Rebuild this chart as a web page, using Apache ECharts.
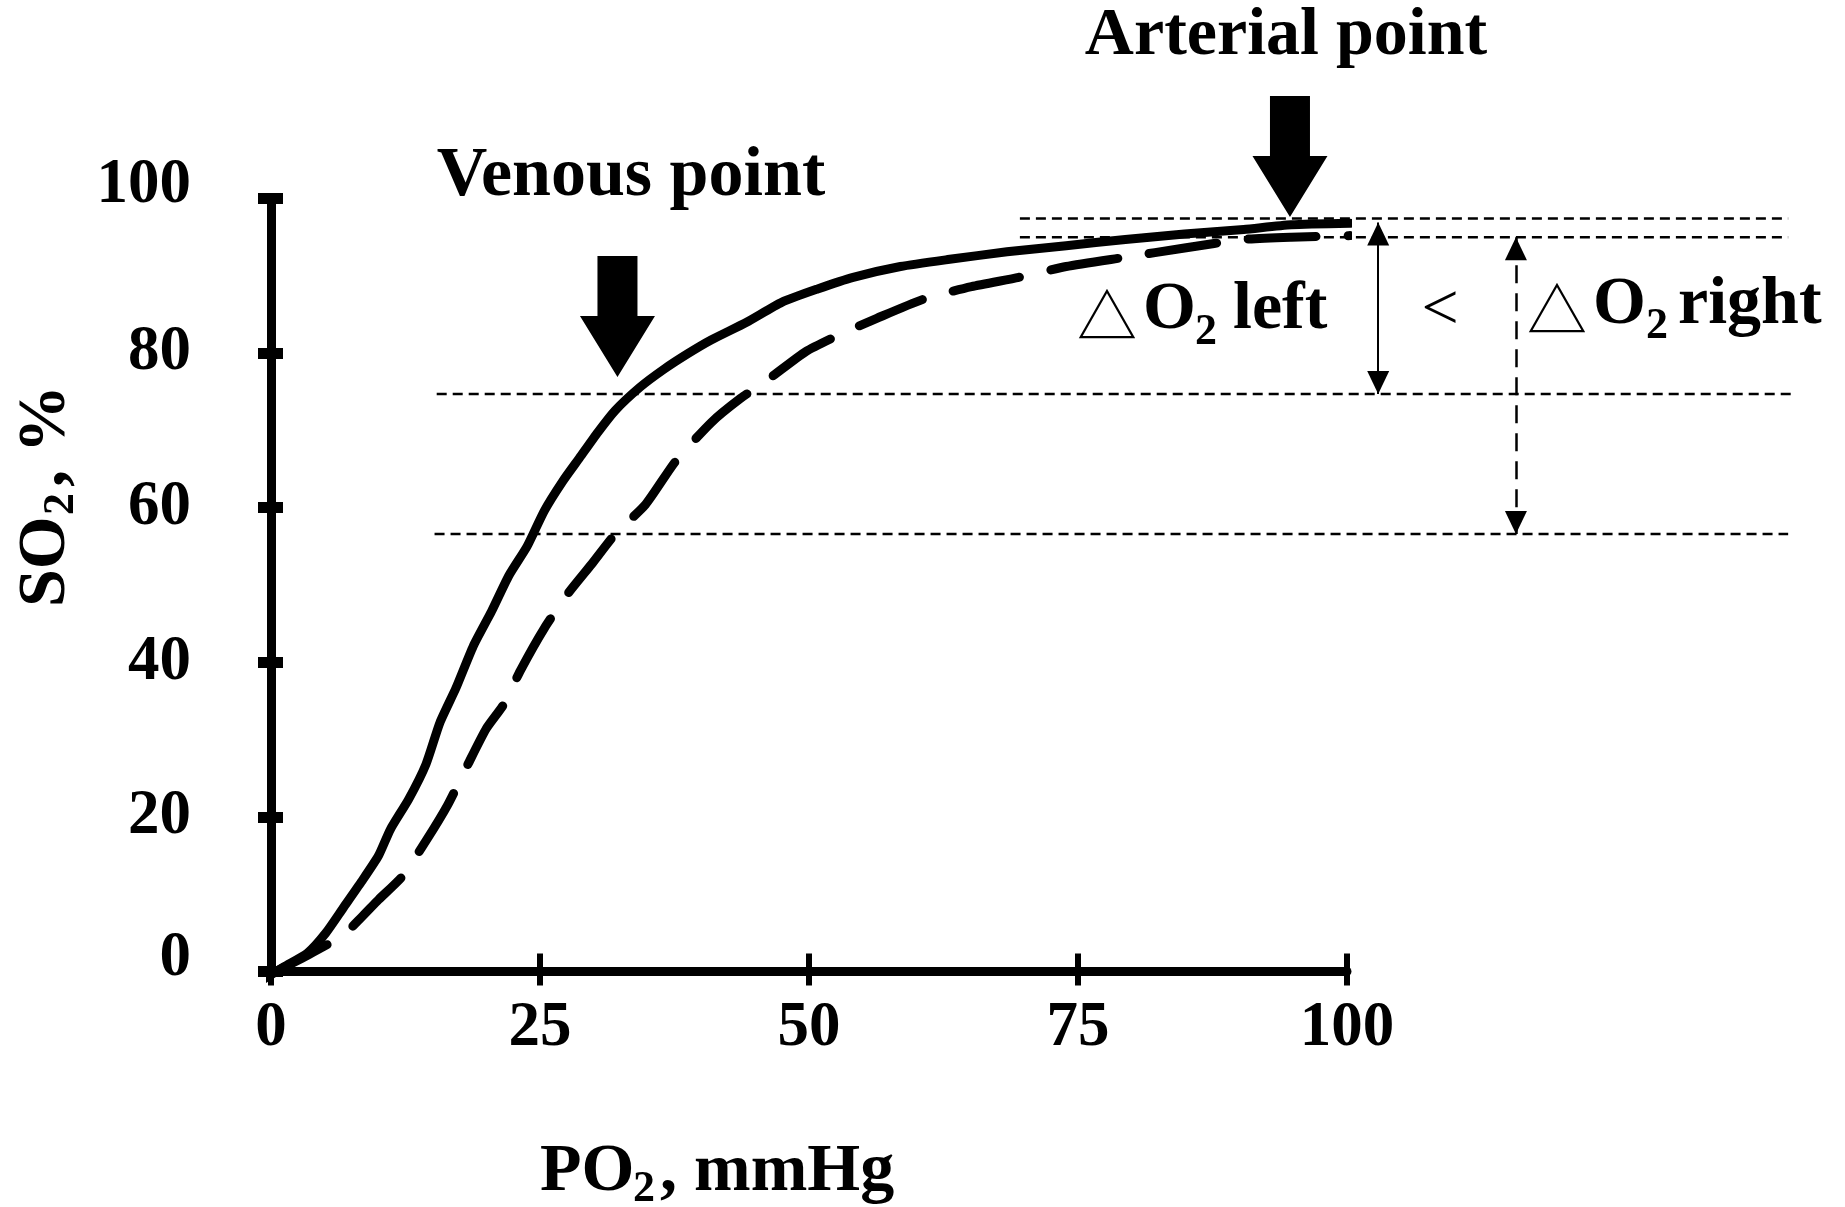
<!DOCTYPE html>
<html><head><meta charset="utf-8">
<script src="https://cdn.jsdelivr.net/npm/echarts@6/dist/echarts.min.js"></script>
<style>html,body{margin:0;padding:0;background:#fff}#c{width:1845px;height:1207px}</style>
</head><body><div id="c"></div>
<script>
// ---- data ----
const xTicks = [0, 25, 50, 75, 100];
const yTicks = [0, 20, 40, 60, 80, 100];
// left-shifted (solid) dissociation curve
const leftPO2 = [-0.8, 1.2, 3.4, 5.1, 6.7, 8.4, 10, 11.1, 12.8, 14.4, 15.7, 17.2, 18.8, 20.5, 22.1, 23.8, 25.4, 27.1, 28.7, 30.4, 32.0, 34.3, 36.5, 38.7, 40.9, 44.2, 47.5, 50.8, 54.1, 58.5, 62.9, 68.4, 73.9, 79.4, 84.9, 90.4, 94.8, 100.3];
const leftSO2 = [-1.1, 0.6, 2.4, 5.0, 8.2, 11.6, 15.0, 18.4, 22.3, 26.8, 32.2, 36.7, 42.1, 46.6, 51.2, 55.0, 59.6, 63.4, 66.5, 69.8, 72.6, 75.6, 77.9, 79.9, 81.7, 84.0, 86.6, 88.3, 89.8, 91.2, 92.1, 93.1, 93.9, 94.7, 95.4, 96.0, 96.6, 96.8];
// right-shifted (dashed) dissociation curve
const rightPO2 = [-0.4, 3.4, 6.7, 8.4, 10, 12.2, 14.4, 16.4, 18.3, 20.0, 21.6, 23.2, 25.4, 27.6, 29.8, 32.0, 34.8, 37.6, 40.9, 43.6, 46.4, 49.7, 53.0, 56.3, 60.7, 65.1, 69.5, 73.9, 79.4, 84.9, 90.4, 94.8, 100.3];
const rightSO2 = [-0.6, 2.1, 4.7, 7.0, 9.3, 12.3, 16.9, 21.5, 26.8, 31.4, 34.5, 39.0, 44.4, 48.9, 52.7, 56.6, 60.4, 66.0, 71.0, 74.1, 76.8, 80.2, 82.5, 84.5, 87.0, 88.6, 89.8, 91.2, 92.4, 93.6, 94.7, 95.0, 95.2];
// horizontal dashed reference levels (SO2) and their PO2 extent
const guideLevels = [97.4, 95.0, 74.7, 56.6];
const guideFrom = [69.6, 69.6, 15.4, 15.2];
const guideTo = [141.0, 141.0, 141.5, 141.0];
// vertical difference arrows
const deltaLeft = [102.9, 96.9, 74.7];   // [PO2, from SO2, to SO2]
const deltaRight = [115.7, 95.0, 56.6];
// tips of the big block arrows
const venousPoint = [32.2, 76.9];
const arterialPoint = [94.7, 97.6];

// ---- layout ----
const G = {left: 271, top: 198.5, w: 1076, h: 773};
const wideMax = 142;
const SERIF = '"Liberation Serif", "Times New Roman", serif';
const BOLD = (s) => 'bold ' + s + 'px ' + SERIF;

function zip(a, b) { return a.map((v, i) => [v, b[i]]); }

const chart = echarts.init(document.getElementById('c'), null, {renderer: 'canvas'});

const axisLabelStyle = {color: '#000', fontFamily: SERIF, fontWeight: 'bold', fontSize: 63};
const richBase = {color: '#000', fontFamily: SERIF, fontWeight: 'bold', fontSize: 63};

const series = [
  {type: 'line', xAxisIndex: 0, yAxisIndex: 0, data: zip(leftPO2, leftSO2), symbol: 'none', smooth: 0.2, clip: false, silent: true,
   lineStyle: {color: '#000', width: 9, cap: 'round', join: 'round'}},
  {type: 'line', xAxisIndex: 0, yAxisIndex: 0, data: zip(rightPO2, rightSO2), symbol: 'none', smooth: 0.2, clip: false, silent: true,
   lineStyle: {color: '#000', width: 9, type: [68, 32], cap: 'round', join: 'round'}}
];
guideLevels.forEach((lv, i) => {
  series.push({type: 'line', xAxisIndex: 2, yAxisIndex: 2, data: [[guideFrom[i], lv], [guideTo[i], lv]], symbol: 'none', clip: false, silent: true,
    lineStyle: {color: '#000', width: 2.5, type: [10, 6]}});
});
series.push({type: 'scatter', xAxisIndex: 0, yAxisIndex: 0, clip: false, silent: true,
  data: [venousPoint, arterialPoint],
  symbol: 'path://M17.5,0 L57.5,0 L57.5,60 L75,60 L37.5,121 L0,60 L17.5,60 Z',
  symbolSize: [75, 121], symbolOffset: [0, -60.5], itemStyle: {color: '#000', opacity: 1}});
function arrowSeries(d, ls) {
  return {type: 'line', xAxisIndex: 2, yAxisIndex: 2, data: [], silent: true,
    markLine: {silent: true, animation: false, symbol: ['triangle', 'triangle'], symbolSize: [22, 23],
      symbolOffset: [[0, 11.5], [0, 11.5]], label: {show: false}, emphasis: {disabled: true},
      lineStyle: ls, data: [[{coord: [d[0], d[1]]}, {coord: [d[0], d[2]]}]]}};
}
series.push(arrowSeries(deltaLeft, {color: '#000', width: 2, type: 'solid'}));
series.push(arrowSeries(deltaRight, {color: '#000', width: 2.5, type: [18, 10]}));

const txt = (x, y, text, font, align, extra) => Object.assign({
  type: 'text', x: x, y: y, silent: true,
  style: {text: text, font: font, fill: '#000', align: align || 'left', textAlign: align || 'left', verticalAlign: 'middle', textVerticalAlign: 'middle'}
}, extra || {});

const TRI = '60px "Noto Sans CJK SC", "DejaVu Sans", sans-serif';
const graphic = [
  txt(1286, 36, 'Arterial point', BOLD(68), 'center'),
  txt(631, 177, 'Venous point', BOLD(70), 'center'),
  // ΔO2 left
  txt(1107, 316, '△', TRI, 'center'),
  txt(1143, 310.5, 'O', BOLD(68)),
  txt(1195, 333, '2', BOLD(44)),
  txt(1233, 310.5, 'left', BOLD(68)),
  // <
  txt(1440, 312, '<', '66px ' + SERIF, 'center'),
  // ΔO2 right
  txt(1557, 310, '△', TRI, 'center'),
  txt(1593, 305, 'O', BOLD(68)),
  txt(1646, 327, '2', BOLD(44)),
  txt(1678, 305, 'right', BOLD(68)),
  // x axis title
  txt(540, 1172, 'PO', BOLD(68)),
  txt(633, 1190, '2', BOLD(44)),
  txt(660, 1172, ', mmHg', BOLD(68)),
  // y axis title (rotated)
  {type: 'group', x: 46, y: 607, rotation: Math.PI / 2, silent: true, children: [
    txt(0, 0, 'SO', BOLD(68)),
    txt(92, 16, '2', BOLD(44)),
    txt(120, 0, ', %', BOLD(68))
  ]}
];

const option = {
  animation: false,
  backgroundColor: '#fff',
  grid: [
    {left: G.left, top: G.top, width: G.w, height: G.h},
    {left: G.left, top: G.top, width: G.w * wideMax / 100, height: G.h}
  ],
  xAxis: [
    {gridIndex: 0, type: 'value', min: xTicks[0], max: xTicks[xTicks.length - 1], interval: xTicks[1] - xTicks[0], position: 'bottom',
     axisLine: {show: true, lineStyle: {color: '#000', width: 9}},
     axisTick: {show: true, inside: false, length: 14, lineStyle: {color: '#000', width: 6}},
     axisLabel: Object.assign({margin: 26}, axisLabelStyle), splitLine: {show: false}},
    {gridIndex: 0, type: 'value', min: xTicks[0], max: xTicks[xTicks.length - 1], interval: xTicks[1] - xTicks[0], position: 'bottom',
     axisLine: {show: false}, axisTick: {show: true, inside: true, length: 18, lineStyle: {color: '#000', width: 6}},
     axisLabel: {show: false}, splitLine: {show: false}},
    {gridIndex: 1, type: 'value', min: 0, max: wideMax, show: false}
  ],
  yAxis: [
    {gridIndex: 0, type: 'value', min: yTicks[0], max: yTicks[yTicks.length - 1], interval: yTicks[1] - yTicks[0], position: 'left',
     axisLine: {show: true, lineStyle: {color: '#000', width: 9}},
     axisTick: {show: true, inside: false, length: 13, lineStyle: {color: '#000', width: 11}},
     axisLabel: Object.assign({margin: 80,
       formatter: (v) => (v === yTicks[0] || v === yTicks[yTicks.length - 1]) ? '{e|' + v + '}' : '{m|' + v + '}',
       rich: {e: Object.assign({padding: [0, 0, 26, 0]}, richBase), m: Object.assign({}, richBase)}}, axisLabelStyle),
     splitLine: {show: false}},
    {gridIndex: 0, type: 'value', min: yTicks[0], max: yTicks[yTicks.length - 1], interval: yTicks[1] - yTicks[0], position: 'left',
     axisLine: {show: false}, axisTick: {show: true, inside: true, length: 12, lineStyle: {color: '#000', width: 11}},
     axisLabel: {show: false}, splitLine: {show: false}},
    {gridIndex: 1, type: 'value', min: 0, max: 100, show: false}
  ],
  series: series,
  graphic: graphic
};
chart.setOption(option);
</script>
</body></html>
